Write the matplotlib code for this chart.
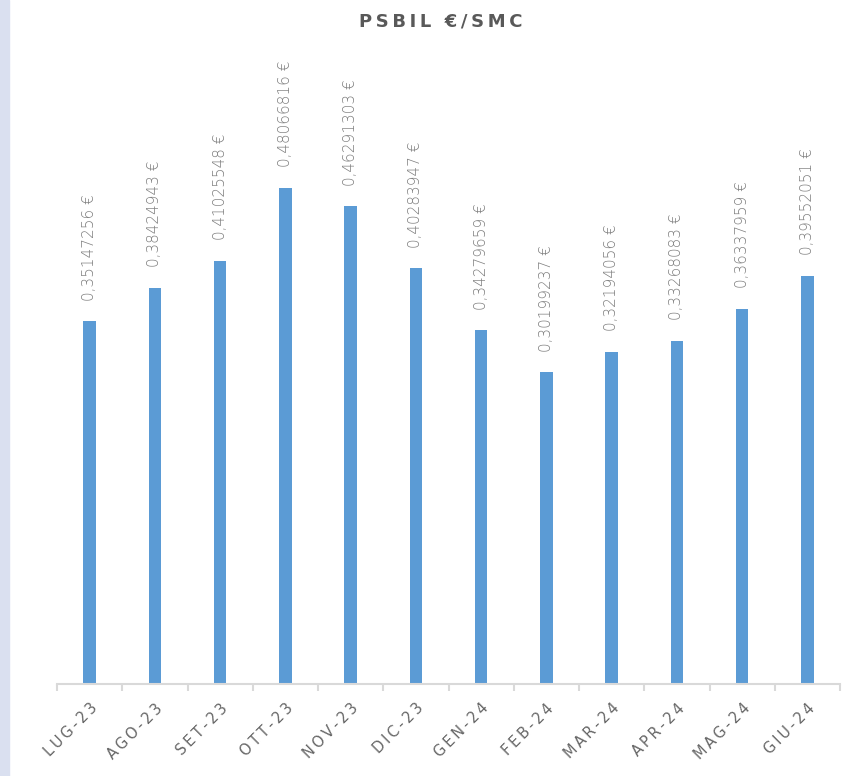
import matplotlib
matplotlib.use("Agg")
import matplotlib.pyplot as plt
from matplotlib.patches import Rectangle

# ---------- data ----------
months = ["LUG-23", "AGO-23", "SET-23", "OTT-23", "NOV-23", "DIC-23",
          "GEN-24", "FEB-24", "MAR-24", "APR-24", "MAG-24", "GIU-24"]
psbil = [0.35147256, 0.38424943, 0.41025548, 0.48066816, 0.46291303,
         0.40283947, 0.34279659, 0.30199237, 0.32194056, 0.33268083,
         0.36337959, 0.39552051]
title = "PSBIL €/SMC"

bar_color = "#5B9BD5"
text_grey = "#595959"
label_grey = "#7F7F7F"
axis_grey = "#D9D9D9"

plt.rcParams["font.family"] = ["DejaVu Sans"]


def spaced(s, sep="\u2009"):
    # crude letter spacing
    return sep.join(s)


fig = plt.figure(figsize=(8.63, 7.76), dpi=100)
fig.patches.append(Rectangle((0, 0), 9 / 863, 1, transform=fig.transFigure,
                             color="#DAE0F0", zorder=0))

ax = fig.add_axes([57 / 863, 1 - 684 / 776, (840 - 57) / 863, (684 - 65) / 776])
x = range(len(months))
ax.bar(x, psbil, width=0.19, color=bar_color, zorder=2)
ax.set_xlim(-0.5, len(months) - 0.5)
ax.set_ylim(0, 0.6)

for xi, v in zip(x, psbil):
    lab = f"{v:.8f}".replace(".", ",") + " €"
    ax.annotate(lab, (xi, v), xytext=(0, 15), textcoords="offset points",
                rotation=90, ha="center", va="bottom", fontsize=11,
                color=label_grey, fontweight="light")

for side in ("left", "right", "top"):
    ax.spines[side].set_visible(False)
ax.spines["bottom"].set_color(axis_grey)
ax.spines["bottom"].set_linewidth(1.5)
ax.set_yticks([])

# ticks at category boundaries, labels at centres
ax.set_xticks([i - 0.5 for i in range(len(months) + 1)])
ax.set_xticklabels([])
ax.tick_params(axis="x", which="major", length=5, width=1.5, color=axis_grey)
ax.set_xticks(list(x), minor=True)
ax.set_xticklabels([spaced(m) for m in months], minor=True, rotation=45,
                   ha="right", va="top", rotation_mode="anchor",
                   fontsize=10.5, color="#666666")
ax.tick_params(axis="x", which="minor", length=0, pad=12)

fig.text(441 / 863, 1 - 22 / 776, spaced(title), ha="center", va="center",
         fontsize=13, fontweight="bold", color=text_grey)

fig.savefig("out.png", dpi=100)
